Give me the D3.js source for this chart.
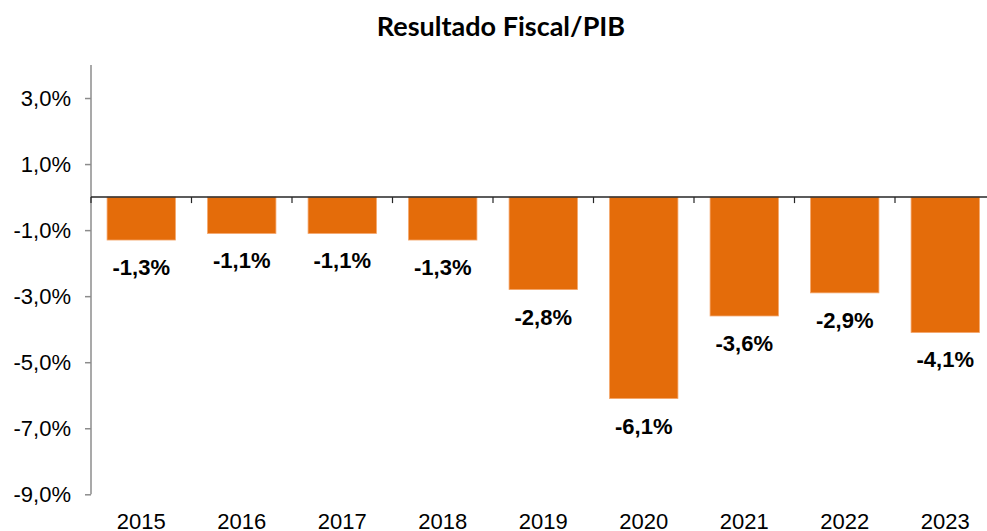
<!DOCTYPE html>
<html>
<head>
<meta charset="utf-8">
<script src="https://cdn.jsdelivr.net/npm/d3@7"></script>
<style>
  body { margin: 0; background: #fff; }
  svg { display: block; }
</style>
</head>
<body>
<main></main>
<script>
// data
const years = ['2015', '2016', '2017', '2018', '2019', '2020', '2021', '2022', '2023'];
const values = [-1.3, -1.1, -1.1, -1.3, -2.8, -6.1, -3.6, -2.9, -4.1];
const yTicks = [3, 1, -1, -3, -5, -7, -9];

const width = 987;
const height = 531;
const axisLeft = 91;
const axisTop = 65;
const axisBottom = 494.3;
const barColor = '#E46C0A';
const labelFont = '"Liberation Sans", Arial, sans-serif';

const fmt = v => d3.format('.1f')(v).replace('.', ',').replace('−', '-') + '%';

const svg = d3.select('main')
  .append('svg')
  .attr('width', width)
  .attr('height', height);

// scales
const xScale = d3.scaleBand()
  .domain(years)
  .range([axisLeft, axisLeft + 904.5])
  .paddingInner(0.32)
  .paddingOuter(0.16);

const yScale = d3.scaleLinear()
  .domain([-9, 4])
  .range([axisBottom, axisTop]);

// title
svg.append('text')
  .text('Resultado Fiscal/PIB')
  .attr('x', 501)
  .attr('y', 36)
  .attr('text-anchor', 'middle')
  .attr('font-family', 'Lato, "Liberation Sans", sans-serif')
  .attr('font-weight', 'bold')
  .attr('font-size', 27)
  .attr('fill', '#000');

// bars
const data = years.map((y, i) => ({ year: y, value: values[i] }));

svg.selectAll('rect.bar')
  .data(data)
  .enter()
  .append('rect')
  .attr('class', 'bar')
  .attr('x', d => xScale(d.year))
  .attr('y', d => yScale(Math.max(0, d.value)))
  .attr('width', xScale.bandwidth())
  .attr('height', d => Math.abs(yScale(d.value) - yScale(0)))
  .attr('fill', barColor)
  .attr('stroke', '#F4A56A')
  .attr('stroke-width', 0.8);

// value labels below each bar
svg.selectAll('text.label')
  .data(data)
  .enter()
  .append('text')
  .attr('class', 'label')
  .text(d => fmt(d.value))
  .attr('x', d => xScale(d.year) + xScale.bandwidth() / 2)
  .attr('y', d => yScale(d.value) + 35)
  .attr('text-anchor', 'middle')
  .attr('font-family', labelFont)
  .attr('font-weight', 'bold')
  .attr('font-size', 22)
  .attr('fill', '#000');

// y axis
const yAxis = d3.axisLeft(yScale)
  .tickValues(yTicks)
  .tickSize(6)
  .tickPadding(14)
  .tickFormat(fmt);

const yG = svg.append('g')
  .attr('transform', `translate(${axisLeft}, 0)`)
  .attr('font-family', labelFont)
  .call(yAxis);

yG.select('.domain')
  .attr('d', `M0,${axisTop}V${axisBottom}`)
  .attr('stroke', '#8C8C8C')
  .attr('stroke-width', 1.5);
yG.selectAll('.tick line').attr('stroke', '#8C8C8C').attr('stroke-width', 1.5);
yG.selectAll('.tick text')
  .attr('font-family', labelFont)
  .attr('font-size', 22)
  .attr('fill', '#000');

// zero line with category ticks
const zeroY = yScale(0);
svg.append('line')
  .attr('x1', axisLeft)
  .attr('x2', width)
  .attr('y1', zeroY)
  .attr('y2', zeroY)
  .attr('stroke', '#262626')
  .attr('stroke-width', 1.5);

const boundaries = d3.range(years.length + 1).map(i => axisLeft + i * xScale.step());
svg.selectAll('line.cat-tick')
  .data(boundaries)
  .enter()
  .append('line')
  .attr('class', 'cat-tick')
  .attr('x1', d => d)
  .attr('x2', d => d)
  .attr('y1', zeroY)
  .attr('y2', zeroY + 6)
  .attr('stroke', '#262626')
  .attr('stroke-width', 1.2);

// year labels along the bottom
svg.selectAll('text.year')
  .data(years)
  .enter()
  .append('text')
  .attr('class', 'year')
  .text(d => d)
  .attr('x', d => xScale(d) + xScale.bandwidth() / 2)
  .attr('y', 529)
  .attr('text-anchor', 'middle')
  .attr('font-family', labelFont)
  .attr('font-size', 22)
  .attr('fill', '#000');
</script>
</body>
</html>
